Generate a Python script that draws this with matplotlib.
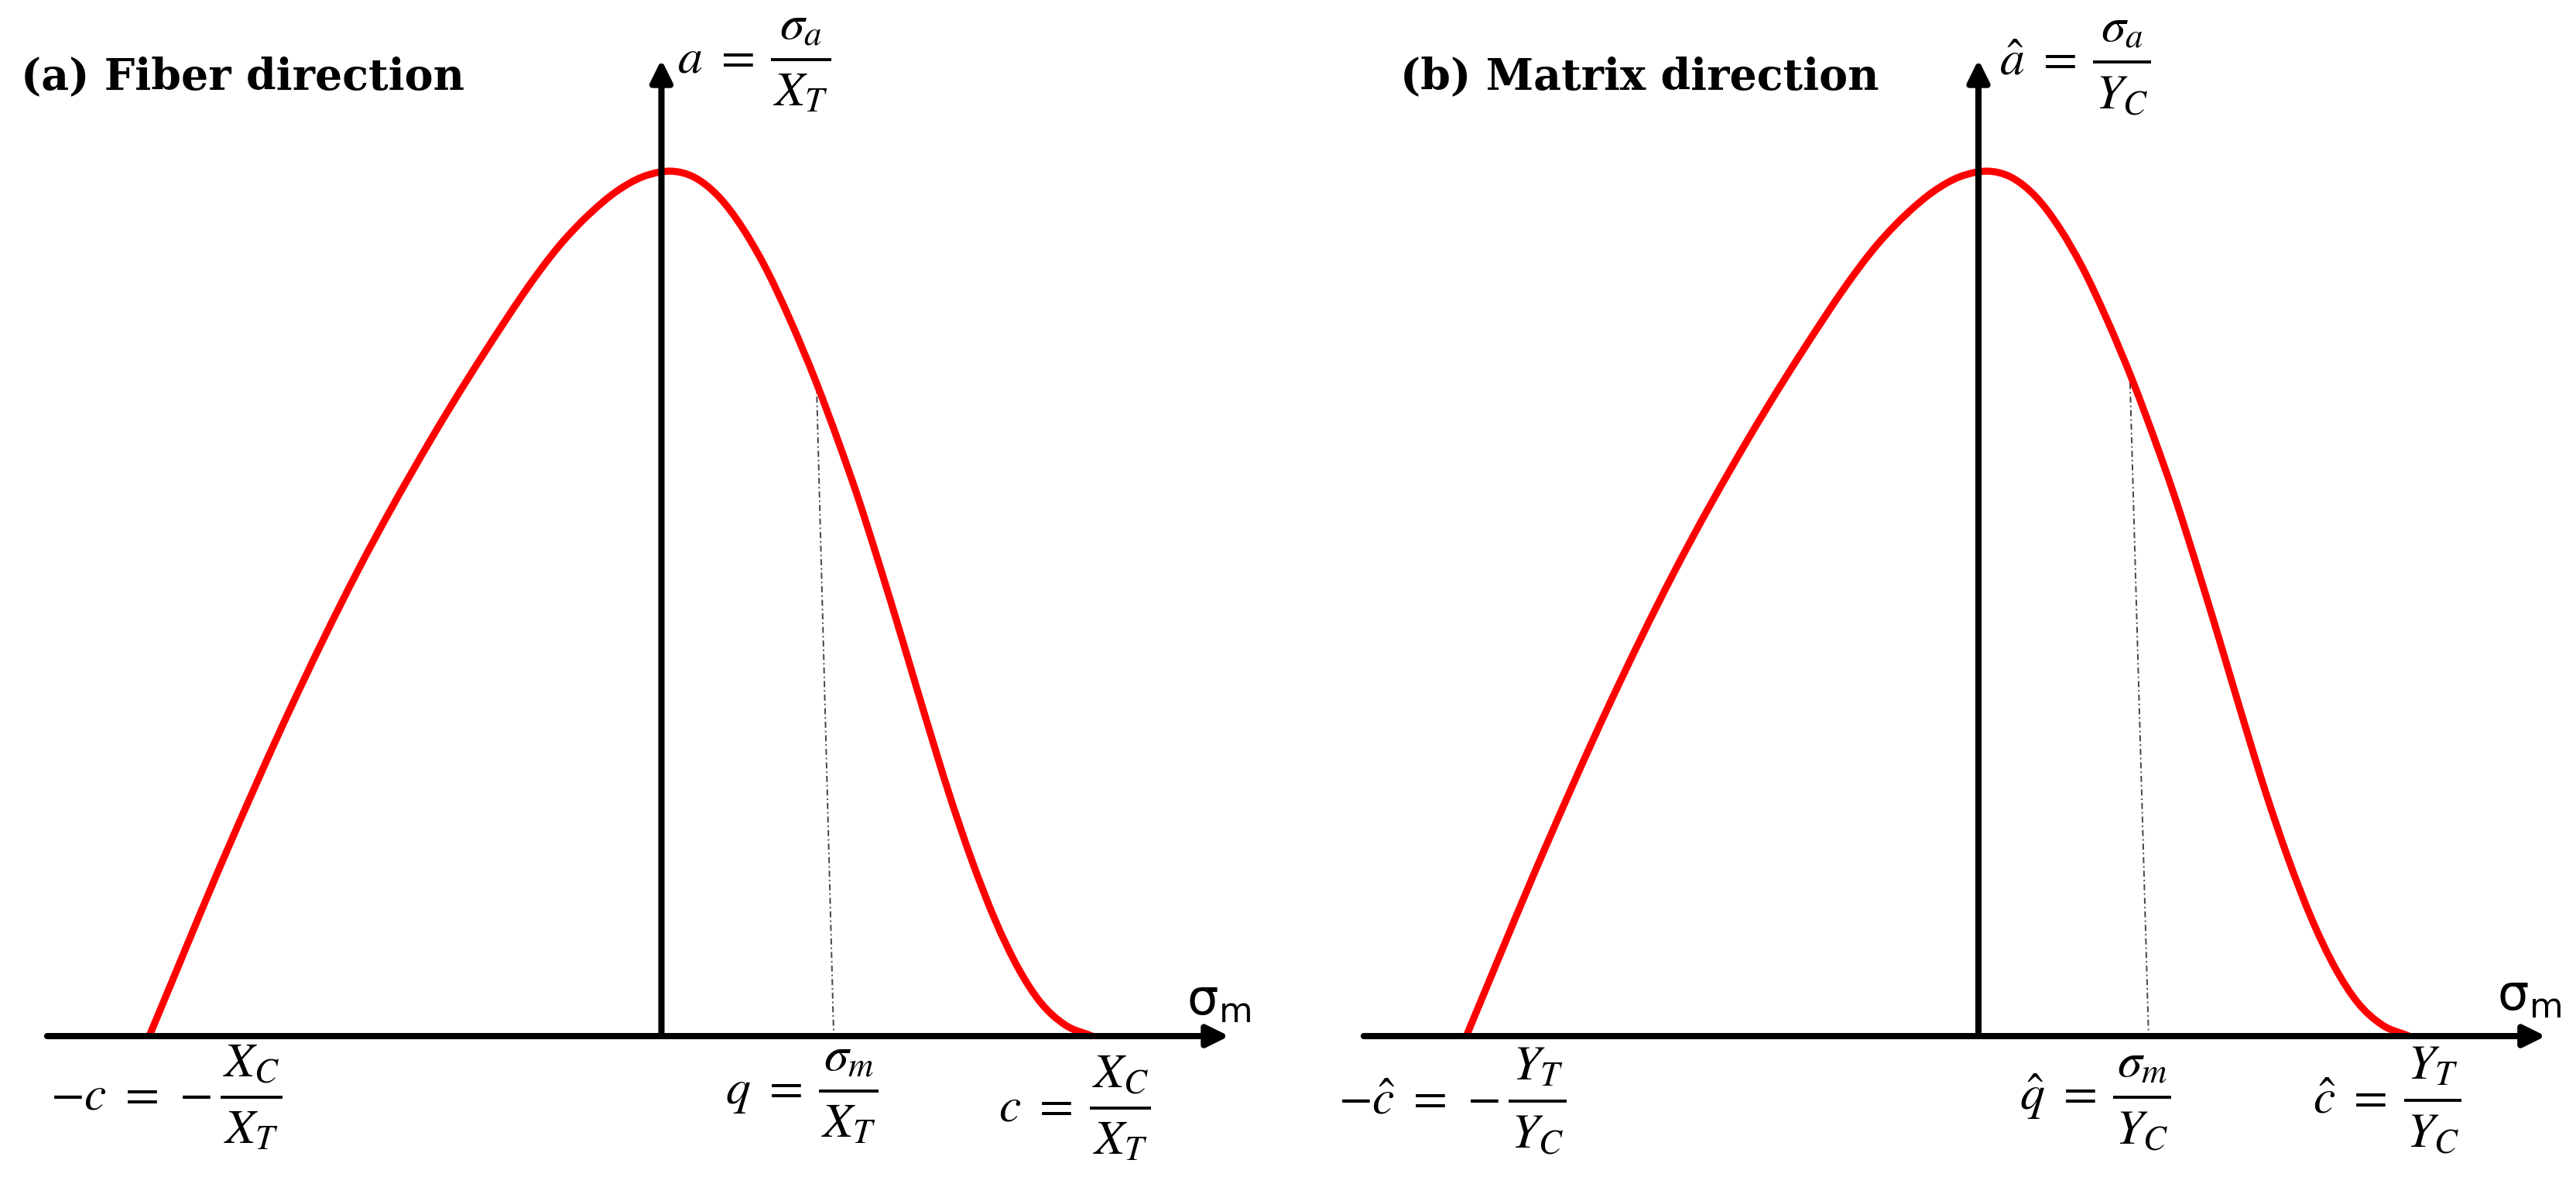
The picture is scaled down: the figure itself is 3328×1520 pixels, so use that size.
import matplotlib
matplotlib.use("Agg")
import matplotlib.pyplot as plt
from matplotlib.path import Path
from matplotlib.patches import PathPatch

# ---------------- data (normalised: c = 1, peak height = 1) ----------------
curve_x = [-1.189, -1.009, -0.862, -0.707, -0.535, -0.364, -0.321, -0.235, -0.166,
           -0.106, -0.046, -0.003, 0.020, 0.076, 0.134, 0.190, 0.240, 0.297, 0.360,
           0.411, 0.454, 0.506, 0.560, 0.614, 0.666, 0.720, 0.774, 0.829, 0.880,
           0.937, 1.0]
curve_y = [0.0, 0.214, 0.378, 0.536, 0.690, 0.826, 0.858, 0.915, 0.951,
           0.976, 0.993, 0.999, 1.0, 0.993, 0.970, 0.933, 0.890, 0.830, 0.755,
           0.687, 0.626, 0.545, 0.457, 0.367, 0.283, 0.204, 0.135, 0.078, 0.039,
           0.013, 0.0]

# q-marker dotted line (top point on curve, foot on axis) per panel
q_line_x = [[0.360, 0.400], [0.352, 0.395]]
q_line_y = [0.755, 0.0]

titles = ["(a) Fiber direction", "(b) Matrix direction"]
# (prefix, numerator, denominator)
y_labels = [(r"$a\ =$", r"$\sigma_a$", r"$X_T$"),
            (r"$\hat{a}\ =$", r"$\sigma_a$", r"$Y_C$")]
x_labels = [
    [(r"$-c\ =\,-$", r"$X_C$", r"$X_T$"),
     (r"$q\ =$", r"$\sigma_m$", r"$X_T$"),
     (r"$c\ =$", r"$X_C$", r"$X_T$")],
    [(r"$-\hat{c}\ =\,-$", r"$Y_T$", r"$Y_C$"),
     (r"$\hat{q}\ =$", r"$\sigma_m$", r"$Y_C$"),
     (r"$\hat{c}\ =$", r"$Y_T$", r"$Y_C$")],
]
axis_name = r"$\mathregular{\sigma_m}$"

# ---------------- layout ----------------
W, H, DPI = 3328, 1520, 200
fig = plt.figure(figsize=(W / DPI, H / DPI), dpi=DPI)
renderer = fig.canvas.get_renderer()

ylim = (-0.1629, 1.1979)
xlims = [(-1.5355, 1.4546), (-1.6029, 1.3872)]
title_x = [-1.487, -1.342]
ylab_pos = [(0.0368, 1.1289), (0.0485, 1.1262)]
xlab_pos = [
    [(-1.419, -0.0707), (0.148, -0.0636), (0.7826, -0.0833)],
    [(-1.486, -0.0752), (0.0952, -0.0707), (0.776, -0.0743)],
]
sig_pos = [(1.219, 0.025), (1.204, 0.030)]
h_axis = [(-1.426, 1.318), (-1.427, 1.317)]
v_tip = 1.129
FS = 23  # formula font size


def smooth_path(xs, ys):
    """Cubic Bezier path through the read points (Hermite tangents)."""
    n = len(xs)
    h = [xs[i + 1] - xs[i] for i in range(n - 1)]
    s = [(ys[i + 1] - ys[i]) / h[i] for i in range(n - 1)]
    d = [s[0]] + [(h[i] * s[i - 1] + h[i - 1] * s[i]) / (h[i - 1] + h[i])
                  for i in range(1, n - 1)] + [s[-1]]
    verts = [(xs[0], ys[0])]
    codes = [Path.MOVETO]
    for i in range(n - 1):
        verts += [(xs[i] + h[i] / 3, ys[i] + d[i] * h[i] / 3),
                  (xs[i + 1] - h[i] / 3, ys[i + 1] - d[i + 1] * h[i] / 3),
                  (xs[i + 1], ys[i + 1])]
        codes += [Path.CURVE4] * 3
    return Path(verts, codes)


def frac_label(ax, xl, x0, ybar, prefix, num, den):
    px2x = (xl[1] - xl[0]) / (W / 2)
    px2y = (ylim[1] - ylim[0]) / H
    em = FS * DPI / 72
    kw = dict(fontsize=FS, math_fontfamily="stix")
    t = ax.text(x0, ybar - 0.25 * em * px2y, prefix, ha="left", va="baseline", **kw)
    wp = t.get_window_extent(renderer).width
    tn = ax.text(0, 0, num, ha="center", va="baseline", **kw)
    td = ax.text(0, 0, den, ha="center", va="baseline", **kw)
    wn = tn.get_window_extent(renderer).width
    wd = td.get_window_extent(renderer).width
    wbar = max(wn, wd) + 6
    gap = 22 if prefix.endswith("=$") else 12
    xb0 = x0 + (wp + gap) * px2x
    xc = xb0 + wbar / 2 * px2x
    tn.set_position((xc, ybar + 27 * px2y))
    td.set_position((xc, ybar - 60 * px2y))
    ax.plot([xb0, xb0 + wbar * px2x], [ybar, ybar], color="black", lw=1.4,
            solid_capstyle="butt", clip_on=False)


for i in range(2):
    ax = fig.add_axes([0.5 * i, 0.0, 0.5, 1.0])
    ax.set_xlim(*xlims[i])
    ax.set_ylim(*ylim)
    ax.axis("off")

    # dotted guide
    ax.plot(q_line_x[i], q_line_y, color="#444444", lw=0.7,
            linestyle=(0, (4, 2, 1, 2)), zorder=1, clip_on=False)
    # failure curve
    ax.add_patch(PathPatch(smooth_path(curve_x, curve_y), fill=False,
                           edgecolor="#ff0000", lw=3.3, zorder=2,
                           capstyle="butt", joinstyle="round", clip_on=False))

    arrow = dict(arrowstyle="-|>,head_length=0.85,head_width=0.42",
                 lw=2.9, color="black", mutation_scale=10, shrinkA=0, shrinkB=0)
    ax.annotate("", xy=(h_axis[i][1], 0), xytext=(h_axis[i][0], 0),
                arrowprops=arrow, zorder=3, annotation_clip=False)
    ax.annotate("", xy=(0, v_tip), xytext=(0, 0),
                arrowprops=arrow, zorder=3, annotation_clip=False)

    # title
    ax.text(title_x[i], 1.095, titles[i], family="DejaVu Serif", fontweight="bold",
            fontsize=20, ha="left", va="baseline")
    # labels
    frac_label(ax, xlims[i], ylab_pos[i][0], ylab_pos[i][1], *y_labels[i])
    for (px, py), lab in zip(xlab_pos[i], x_labels[i]):
        frac_label(ax, xlims[i], px, py, *lab)
    # axis name
    ax.text(sig_pos[i][0], sig_pos[i][1], axis_name, fontsize=23,
            family="DejaVu Sans", ha="left", va="baseline")

fig.savefig("out.png", dpi=DPI, facecolor="white")
